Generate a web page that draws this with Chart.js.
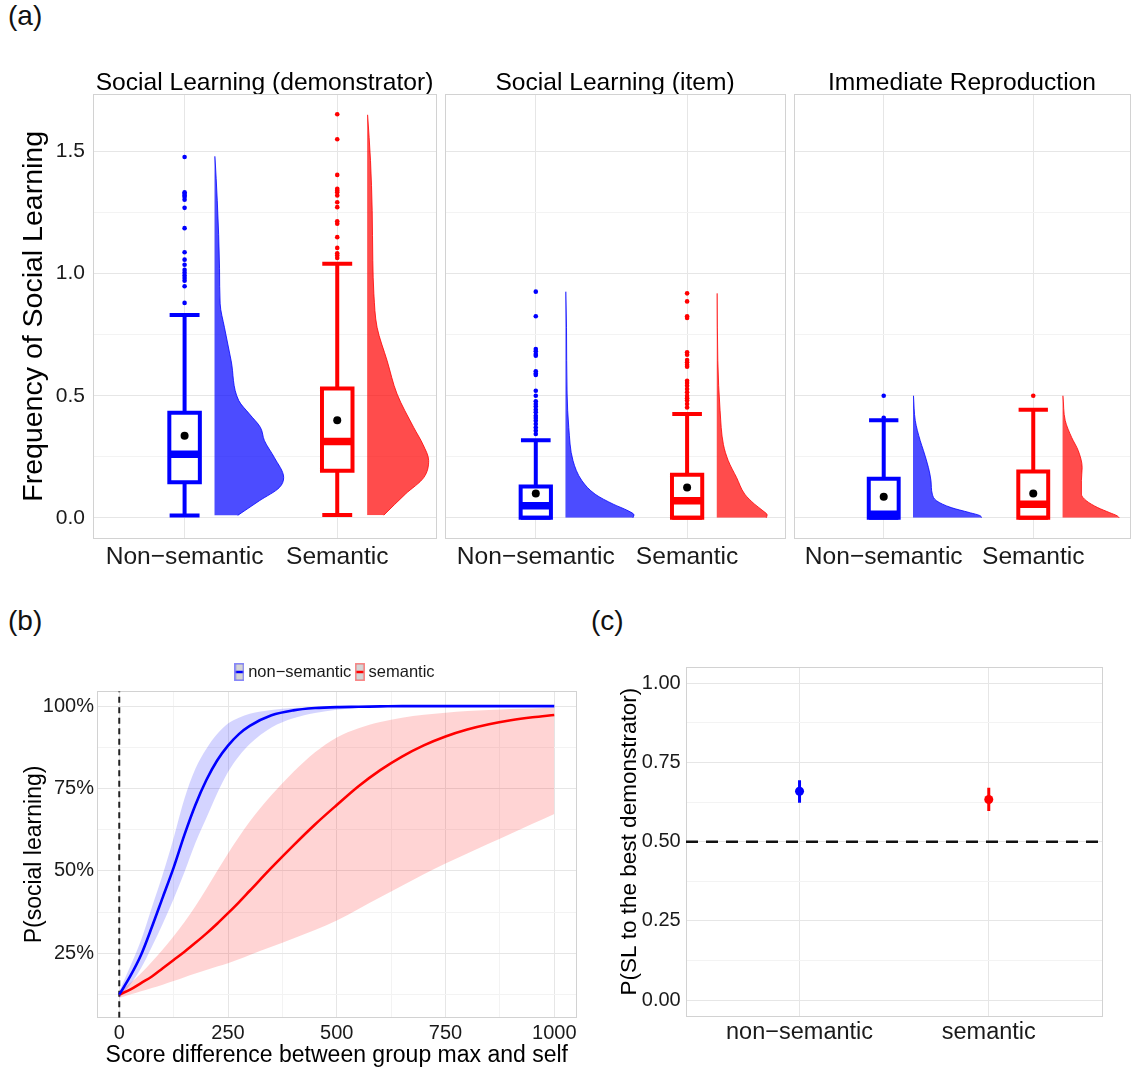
<!DOCTYPE html>
<html>
<head>
<meta charset="utf-8">
<script src="https://cdn.jsdelivr.net/npm/chart.js@4.4.1/dist/chart.umd.min.js"></script>
<style>
  html, body { margin:0; padding:0; background:#fff; }
  body { width:1134px; height:1070px; position:relative; overflow:hidden; font-family:"Liberation Sans", Arial, Helvetica, sans-serif; }
  .panel-label { position:absolute; font-size:28px; line-height:1; color:#111; }
  canvas { position:absolute; display:block; }
</style>
</head>
<body>
<div class="panel-label" style="left:8px;top:2px;">(a)</div>
<div class="panel-label" style="left:8px;top:607px;">(b)</div>
<div class="panel-label" style="left:591px;top:607px;">(c)</div>
<canvas id="a0" width="440" height="518" style="left:0px;top:62px;width:440px;height:518px;"></canvas>
<canvas id="a1" width="348" height="518" style="left:441px;top:62px;width:348px;height:518px;"></canvas>
<canvas id="a2" width="344" height="518" style="left:790px;top:62px;width:344px;height:518px;"></canvas>
<canvas id="pb" width="580" height="420" style="left:0px;top:650px;width:580px;height:420px;"></canvas>
<canvas id="pc" width="554" height="420" style="left:580px;top:650px;width:554px;height:420px;"></canvas>
<script>
// ================= DATA =================
// ---- Panel (a) ----
const facetTitles = ['Social Learning (demonstrator)', 'Social Learning (item)', 'Immediate Reproduction'];
const groupLabelsA = ['Non\u2212semantic', 'Semantic'];
const groupPosA = [1, 2];
const yTicksA = [0, 0.25, 0.5, 0.75, 1.0, 1.25, 1.5];
const yMajorA = [0, 0.5, 1.0, 1.5];

// box statistics [facet][group]
const whiskerLowA  = [[0.01, 0.012], [0, 0], [0, 0]];
const q1A          = [[0.146, 0.193], [0, 0], [0, 0]];
const medianA      = [[0.26, 0.313], [0.05, 0.07], [0.015, 0.056]];
const q3A          = [[0.43, 0.53], [0.128, 0.176], [0.16, 0.19]];
const whiskerHighA = [[0.83, 1.04], [0.318, 0.425], [0.40, 0.443]];
const meanA        = [[0.336, 0.40], [0.10, 0.124], [0.086, 0.10]];

// outliers
const outliersDemNS = [1.477, 1.333, 1.327, 1.32, 1.313, 1.302, 1.269, 1.186, 1.087, 1.057, 1.036, 1.015, 1.003, 0.992, 0.982, 0.971, 0.948, 0.88];
const outliersDemS  = [1.652, 1.55, 1.404, 1.347, 1.34, 1.333, 1.32, 1.292, 1.272, 1.214, 1.204, 1.149, 1.105, 1.083, 1.074, 1.064];
const outliersItemNS = [0.926, 0.825, 0.691, 0.682, 0.671, 0.664, 0.60, 0.591, 0.585, 0.52, 0.50, 0.477, 0.466, 0.456, 0.443, 0.432, 0.418, 0.409, 0.398, 0.384, 0.37, 0.357, 0.343];
const outliersItemS  = [0.919, 0.886, 0.825, 0.818, 0.678, 0.668, 0.646, 0.637, 0.627, 0.619, 0.561, 0.552, 0.541, 0.527, 0.514, 0.50, 0.49, 0.48, 0.466, 0.452];
const outliersImmNS = [0.50, 0.41];
const outliersImmS  = [0.50];

// half-violin profiles: y values and half-widths (x units)
const violinYDemNS = [0.01, 0.07, 0.124, 0.165, 0.247, 0.316, 0.37, 0.425, 0.48, 0.643, 0.78, 0.876, 1.02, 1.30, 1.48];
const violinWDemNS = [0.152, 0.294, 0.425, 0.453, 0.392, 0.327, 0.301, 0.229, 0.159, 0.109, 0.065, 0.037, 0.033, 0.018, 0.003];
const violinYDemS  = [0.011, 0.097, 0.165, 0.234, 0.30, 0.37, 0.507, 0.643, 0.78, 0.917, 1.053, 1.258, 1.463, 1.65];
const violinWDemS  = [0.109, 0.25, 0.371, 0.403, 0.366, 0.305, 0.196, 0.131, 0.065, 0.044, 0.037, 0.033, 0.022, 0.003];
const violinYItemNS = [0.0, 0.012, 0.029, 0.056, 0.097, 0.152, 0.234, 0.37, 0.507, 0.78, 0.926];
const violinWItemNS = [0.446, 0.453, 0.414, 0.316, 0.196, 0.109, 0.05, 0.022, 0.011, 0.007, 0.003];
const violinYItemS  = [0.0, 0.012, 0.029, 0.056, 0.097, 0.165, 0.234, 0.30, 0.439, 0.643, 0.919];
const violinWItemS  = [0.327, 0.333, 0.305, 0.25, 0.185, 0.131, 0.076, 0.044, 0.022, 0.007, 0.003];
const violinYImmNS = [0.0, 0.008, 0.022, 0.042, 0.07, 0.097, 0.152, 0.206, 0.275, 0.316, 0.398, 0.50];
const violinWImmNS = [0.458, 0.451, 0.375, 0.255, 0.157, 0.129, 0.12, 0.103, 0.07, 0.048, 0.015, 0.003];
const violinYImmS  = [0.0, 0.008, 0.022, 0.042, 0.07, 0.097, 0.152, 0.206, 0.275, 0.329, 0.398, 0.50];
const violinWImmS  = [0.379, 0.366, 0.312, 0.235, 0.159, 0.126, 0.126, 0.131, 0.105, 0.061, 0.018, 0.003];

// ---- Panel (b) ----
const seriesLabelsB = ['non\u2212semantic', 'semantic'];
const scoreDiffB = [0, 25, 50, 75, 100, 125, 150, 175, 200, 225, 250, 275, 300, 350, 400, 450, 500, 550, 600, 650, 700, 750, 800, 850, 900, 950, 1000];
const nonSemMidB = [0.125, 0.18, 0.245, 0.33, 0.42, 0.51, 0.61, 0.70, 0.775, 0.835, 0.88, 0.915, 0.94, 0.972, 0.987, 0.994, 0.997, 0.998, 0.999, 1.0, 1.0, 1.0, 1.0, 1.0, 1.0, 1.0, 1.0];
const nonSemLoB  = [0.115, 0.155, 0.205, 0.27, 0.34, 0.415, 0.497, 0.585, 0.66, 0.735, 0.80, 0.848, 0.885, 0.935, 0.963, 0.979, 0.989, 0.994, 0.997, 0.998, 0.999, 1.0, 1.0, 1.0, 1.0, 1.0, 1.0];
const nonSemHiB  = [0.135, 0.21, 0.29, 0.39, 0.49, 0.60, 0.72, 0.81, 0.87, 0.915, 0.947, 0.965, 0.977, 0.988, 0.994, 0.997, 0.998, 0.999, 1.0, 1.0, 1.0, 1.0, 1.0, 1.0, 1.0, 1.0, 1.0];
const semMidB = [0.125, 0.14, 0.16, 0.18, 0.205, 0.23, 0.255, 0.282, 0.31, 0.34, 0.372, 0.405, 0.44, 0.51, 0.577, 0.641, 0.70, 0.757, 0.806, 0.847, 0.881, 0.908, 0.929, 0.945, 0.957, 0.966, 0.973];
const semLoB  = [0.115, 0.125, 0.135, 0.145, 0.155, 0.166, 0.178, 0.189, 0.20, 0.21, 0.22, 0.232, 0.245, 0.27, 0.295, 0.321, 0.35, 0.385, 0.42, 0.455, 0.49, 0.523, 0.553, 0.583, 0.613, 0.643, 0.673];
const semHiB  = [0.135, 0.16, 0.19, 0.225, 0.262, 0.302, 0.345, 0.393, 0.445, 0.50, 0.553, 0.603, 0.65, 0.73, 0.80, 0.86, 0.905, 0.933, 0.952, 0.965, 0.974, 0.98, 0.985, 0.988, 0.991, 0.993, 0.995];
const xTicksB = [0, 125, 250, 375, 500, 625, 750, 875, 1000];
const xMajorB = [0, 250, 500, 750, 1000];
const yTicksB = [0.125, 0.25, 0.375, 0.5, 0.625, 0.75, 0.875, 1.0];
const yMajorB = [0.25, 0.5, 0.75, 1.0];
const refScoreDiff = 0;

// ---- Panel (c) ----
const groupLabelsC = ['non\u2212semantic', 'semantic'];
const groupPosC = [1, 2];
const estimateC = [0.659, 0.633];
const lowerC = [0.623, 0.597];
const upperC = [0.694, 0.67];
const chanceLevelC = 0.5;
const yTicksC = [0, 0.125, 0.25, 0.375, 0.5, 0.625, 0.75, 0.875, 1.0];
const yMajorC = [0, 0.25, 0.5, 0.75, 1.0];

// ================= STYLE / GEOMETRY =================
const FONT = '"Liberation Sans", Arial, Helvetica, sans-serif';
const TEXT = '#1a1a1a';
const GRID_MAJOR = '#e6e6e6';
const GRID_MINOR = '#f3f3f3';
const PANEL_BORDER = '#d2d2d2';
const BLUE = '#0000ff';
const RED = '#ff0000';
const groupColors = [BLUE, RED];
const violinFills = ['rgba(0,0,255,0.70)', 'rgba(255,0,0,0.70)'];
const BOX_HALF = 0.1, CAP_HALF = 0.098, VIOLIN_OFFSET = 0.196;
const X_MIN_A = 0.4, X_MAX_A = 2.647, Y_MIN_A = -0.0825, Y_MAX_A = 1.7325;
const X_MIN_B = -50, X_MAX_B = 1050, Y_MIN_B = 0.055, Y_MAX_B = 1.045;
const X_MIN_C = 0.4, X_MAX_C = 2.6, Y_MIN_C = -0.05, Y_MAX_C = 1.05;

Chart.defaults.font.family = FONT;

const outliersA = [[outliersDemNS, outliersDemS], [outliersItemNS, outliersItemS], [outliersImmNS, outliersImmS]];
const violinYA = [[violinYDemNS, violinYDemS], [violinYItemNS, violinYItemS], [violinYImmNS, violinYImmS]];
const violinWA = [[violinWDemNS, violinWDemS], [violinWItemNS, violinWItemS], [violinWImmNS, violinWImmS]];

function gridColor(majors) {
  return (c) => (c.tick && majors.includes(c.tick.value)) ? GRID_MAJOR : GRID_MINOR;
}
function borderAxis(pos, size) {
  const horiz = (pos === 'top' || pos === 'bottom');
  return {
    type: 'linear', position: pos, axis: horiz ? 'x' : 'y', display: true,
    grid: { display: false, drawTicks: false },
    ticks: { display: false },
    border: { display: true, color: PANEL_BORDER, width: 1 },
    afterFit: (s) => { if (horiz) s.height = size; else s.width = size; }
  };
}
const baseOpts = { responsive: false, animation: false, events: [] };

// ================= PANEL (a) =================
const rightPadA = [3, 2, 1];
const yAxisWidthA = [93, 2, 2];
for (let f = 0; f < 3; f++) {
  const datasets = [];
  for (let g = 0; g < 2; g++) {
    const c = groupPosA[g];
    const col = groupColors[g];
    const base = c + VIOLIN_OFFSET;
    const vy = violinYA[f][g], vw = violinWA[f][g];
    // half violin
    datasets.push({
      indexAxis: 'y', data: vy.map((y, i) => ({ x: base + vw[i], y })),
      fill: { value: base }, backgroundColor: violinFills[g], borderColor: col, borderWidth: 0.8,
      pointRadius: 0, cubicInterpolationMode: 'monotone', order: 5
    });
    // box white fill
    datasets.push({
      indexAxis: 'y', data: [{ x: c + BOX_HALF, y: q1A[f][g] }, { x: c + BOX_HALF, y: q3A[f][g] }],
      fill: { value: c - BOX_HALF }, backgroundColor: '#ffffff', borderWidth: 0, pointRadius: 0, order: 4
    });
    const line = { borderColor: col, pointRadius: 0, fill: false, order: 3, borderJoinStyle: 'miter' };
    // whiskers
    datasets.push({ ...line, borderWidth: 4, data: [{ x: c, y: q3A[f][g] }, { x: c, y: whiskerHighA[f][g] }] });
    datasets.push({ ...line, borderWidth: 4, data: [{ x: c, y: whiskerLowA[f][g] }, { x: c, y: q1A[f][g] }] });
    datasets.push({ ...line, borderWidth: 4, data: [{ x: c - CAP_HALF, y: whiskerHighA[f][g] }, { x: c + CAP_HALF, y: whiskerHighA[f][g] }] });
    datasets.push({ ...line, borderWidth: 4, data: [{ x: c - CAP_HALF, y: whiskerLowA[f][g] }, { x: c + CAP_HALF, y: whiskerLowA[f][g] }] });
    // box outline
    datasets.push({ ...line, borderWidth: 4, borderCapStyle: 'square', data: [
      { x: c - BOX_HALF, y: q1A[f][g] }, { x: c + BOX_HALF, y: q1A[f][g] },
      { x: c + BOX_HALF, y: q3A[f][g] }, { x: c - BOX_HALF, y: q3A[f][g] },
      { x: c - BOX_HALF, y: q1A[f][g] }] });
    // median
    datasets.push({ ...line, borderWidth: 7.5, data: [{ x: c - BOX_HALF, y: medianA[f][g] }, { x: c + BOX_HALF, y: medianA[f][g] }] });
    // outliers
    datasets.push({ showLine: false, data: outliersA[f][g].map(y => ({ x: c, y })), pointRadius: 2.3,
      pointBackgroundColor: col, pointBorderWidth: 0, order: 2 });
    // mean
    datasets.push({ showLine: false, data: [{ x: c, y: meanA[f][g] }], pointRadius: 4,
      pointBackgroundColor: '#000', pointBorderWidth: 0, order: 1 });
  }
  new Chart(document.getElementById('a' + f), {
    type: 'line',
    data: { datasets },
    options: {
      ...baseOpts,
      layout: { padding: { left: 0, right: rightPadA[f], top: 0, bottom: 0 } },
      plugins: {
        legend: { display: false }, tooltip: { enabled: false },
        title: { display: true, text: facetTitles[f], fullSize: false, color: '#000',
          font: { family: FONT, size: 24.6, weight: 'normal', lineHeight: 0.9 }, padding: { top: 10.5, bottom: 0 } }
      },
      scales: {
        x: {
          type: 'linear', min: X_MIN_A, max: X_MAX_A,
          afterBuildTicks: (s) => { s.ticks = groupPosA.map(v => ({ value: v })); },
          ticks: { autoSkip: false, maxRotation: 0, color: TEXT, font: { family: FONT, size: 24.6 }, padding: 4,
            callback: (v) => { const i = groupPosA.indexOf(v); return i < 0 ? '' : groupLabelsA[i]; } },
          grid: { color: GRID_MAJOR, drawTicks: false },
          border: { display: true, color: PANEL_BORDER },
          afterFit: (s) => { s.height = 42; }
        },
        x2: borderAxis('top', 0),
        y: {
          type: 'linear', min: Y_MIN_A, max: Y_MAX_A,
          afterBuildTicks: (s) => { s.ticks = yTicksA.map(v => ({ value: v })); },
          ticks: { display: f === 0, color: TEXT, font: { family: FONT, size: 21 }, padding: 8,
            callback: (v) => yMajorA.includes(v) ? v.toFixed(1) : '' },
          grid: { color: gridColor(yMajorA), drawTicks: false },
          border: { display: true, color: PANEL_BORDER },
          title: { display: f === 0, text: 'Frequency of Social Learning', color: '#000',
            font: { family: FONT, size: 28.5 }, padding: { top: 17, bottom: 0 } },
          afterFit: (s) => { s.width = yAxisWidthA[f]; }
        },
        y2: borderAxis('right', 0)
      }
    }
  });
}

// ================= PANEL (b) =================
function legendKey(lineColor, edgeColor) {
  const cv = document.createElement('canvas');
  cv.width = 10; cv.height = 18;
  const k = cv.getContext('2d');
  k.fillStyle = '#d5d5d5';
  k.fillRect(0.75, 0.75, 8.5, 16.5);
  k.strokeStyle = edgeColor; k.lineWidth = 1.5;
  k.strokeRect(0.75, 0.75, 8.5, 16.5);
  k.strokeStyle = lineColor; k.lineWidth = 2.5;
  k.beginPath(); k.moveTo(1.5, 9); k.lineTo(8.5, 9); k.stroke();
  return cv;
}
const ribbonB = (ys) => scoreDiffB.map((x, i) => ({ x, y: ys[i] }));
new Chart(document.getElementById('pb'), {
  type: 'line',
  data: { datasets: [
    { label: seriesLabelsB[0], data: ribbonB(nonSemMidB), borderColor: BLUE, borderWidth: 2.6, pointRadius: 0, fill: false,
      cubicInterpolationMode: 'monotone', pointStyle: legendKey(BLUE, 'rgba(0,0,255,0.45)') },
    { label: seriesLabelsB[1], data: ribbonB(semMidB), borderColor: RED, borderWidth: 2.6, pointRadius: 0, fill: false,
      cubicInterpolationMode: 'monotone', pointStyle: legendKey(RED, 'rgba(255,0,0,0.45)') },
    { label: 'nonsem-upper', data: ribbonB(nonSemHiB), fill: '+1', backgroundColor: 'rgba(0,0,255,0.17)', borderWidth: 0, pointRadius: 0, cubicInterpolationMode: 'monotone' },
    { label: 'nonsem-lower', data: ribbonB(nonSemLoB), fill: false, borderWidth: 0, pointRadius: 0, cubicInterpolationMode: 'monotone' },
    { label: 'sem-upper', data: ribbonB(semHiB), fill: '+1', backgroundColor: 'rgba(255,0,0,0.17)', borderWidth: 0, pointRadius: 0, cubicInterpolationMode: 'monotone' },
    { label: 'sem-lower', data: ribbonB(semLoB), fill: false, borderWidth: 0, pointRadius: 0, cubicInterpolationMode: 'monotone' },
    { label: 'ref', data: [{ x: refScoreDiff, y: Y_MIN_B }, { x: refScoreDiff, y: Y_MAX_B }], borderColor: '#222',
      borderWidth: 2, borderDash: [6, 4.5], pointRadius: 0, fill: false, order: 1 }
  ] },
  options: {
    ...baseOpts,
    layout: { padding: { left: 0, right: 3.4, top: 5.75, bottom: 0 } },
    plugins: {
      tooltip: { enabled: false },
      legend: { display: true, position: 'top', fullSize: false,
        labels: { usePointStyle: true, pointStyleWidth: 1, padding: 8, color: TEXT,
          font: { family: FONT, size: 16.5 }, filter: (item) => item.datasetIndex < 2 } }
    },
    scales: {
      x: {
        type: 'linear', min: X_MIN_B, max: X_MAX_B,
        afterBuildTicks: (s) => { s.ticks = xTicksB.map(v => ({ value: v })); },
        ticks: { autoSkip: false, maxRotation: 0, color: TEXT, font: { family: FONT, size: 20 }, padding: 3.3,
          callback: (v) => xMajorB.includes(v) ? String(v) : '' },
        grid: { color: gridColor(xMajorB), drawTicks: false },
        border: { display: true, color: PANEL_BORDER },
        title: { display: true, text: 'Score difference between group max and self', color: '#000',
          font: { family: FONT, size: 23 }, padding: { top: 0, bottom: 1 } },
        afterFit: (s) => { s.height = 52.3; }
      },
      x2: borderAxis('top', 1),
      y: {
        type: 'linear', min: Y_MIN_B, max: Y_MAX_B,
        afterBuildTicks: (s) => { s.ticks = yTicksB.map(v => ({ value: v })); },
        ticks: { color: TEXT, font: { family: FONT, size: 20 }, padding: 3.5,
          callback: (v) => yMajorB.includes(v) ? Math.round(v * 100) + '%' : '' },
        grid: { color: gridColor(yMajorB), drawTicks: false },
        border: { display: true, color: PANEL_BORDER },
        title: { display: true, text: 'P(social learning)', color: '#000',
          font: { family: FONT, size: 23 }, padding: { top: 21, bottom: 0 } },
        afterFit: (s) => { s.width = 97.5; }
      },
      y2: borderAxis('right', 0)
    }
  }
});

// ================= PANEL (c) =================
const datasetsC = [
  { data: [{ x: X_MIN_C, y: chanceLevelC }, { x: X_MAX_C, y: chanceLevelC }], borderColor: '#111', borderWidth: 2.5,
    borderDash: [12, 8], pointRadius: 0, fill: false, order: 3 }
];
for (let g = 0; g < 2; g++) {
  const c = groupPosC[g];
  datasetsC.push({ data: [{ x: c, y: lowerC[g] }, { x: c, y: upperC[g] }], borderColor: groupColors[g], borderWidth: 3,
    pointRadius: 0, fill: false, order: 2 });
  datasetsC.push({ showLine: false, data: [{ x: c, y: estimateC[g] }], pointRadius: 4.5,
    pointBackgroundColor: groupColors[g], pointBorderWidth: 0, order: 1 });
}
new Chart(document.getElementById('pc'), {
  type: 'line',
  data: { datasets: datasetsC },
  options: {
    ...baseOpts,
    layout: { padding: { left: 0, right: 31.7, top: 0, bottom: 0 } },
    plugins: { legend: { display: false }, tooltip: { enabled: false } },
    scales: {
      x: {
        type: 'linear', min: X_MIN_C, max: X_MAX_C,
        afterBuildTicks: (s) => { s.ticks = groupPosC.map(v => ({ value: v })); },
        ticks: { autoSkip: false, maxRotation: 0, color: TEXT, font: { family: FONT, size: 23.5 }, padding: 2.9,
          callback: (v) => { const i = groupPosC.indexOf(v); return i < 0 ? '' : groupLabelsC[i]; } },
        grid: { color: GRID_MAJOR, drawTicks: false },
        border: { display: true, color: PANEL_BORDER },
        afterFit: (s) => { s.height = 54; }
      },
      x2: borderAxis('top', 12.3),
      y: {
        type: 'linear', min: Y_MIN_C, max: Y_MAX_C,
        afterBuildTicks: (s) => { s.ticks = yTicksC.map(v => ({ value: v })); },
        ticks: { color: TEXT, font: { family: FONT, size: 20 }, padding: 5.3,
          callback: (v) => yMajorC.includes(v) ? v.toFixed(2) : '' },
        grid: { color: gridColor(yMajorC), drawTicks: false },
        border: { display: true, color: PANEL_BORDER },
        title: { display: true, text: 'P(SL to the best demonstrator)', color: '#000',
          font: { family: FONT, size: 22.5 }, padding: { top: 36, bottom: 0 } },
        afterFit: (s) => { s.width = 106; }
      },
      y2: borderAxis('right', 0)
    }
  }
});
</script>
</body>
</html>
